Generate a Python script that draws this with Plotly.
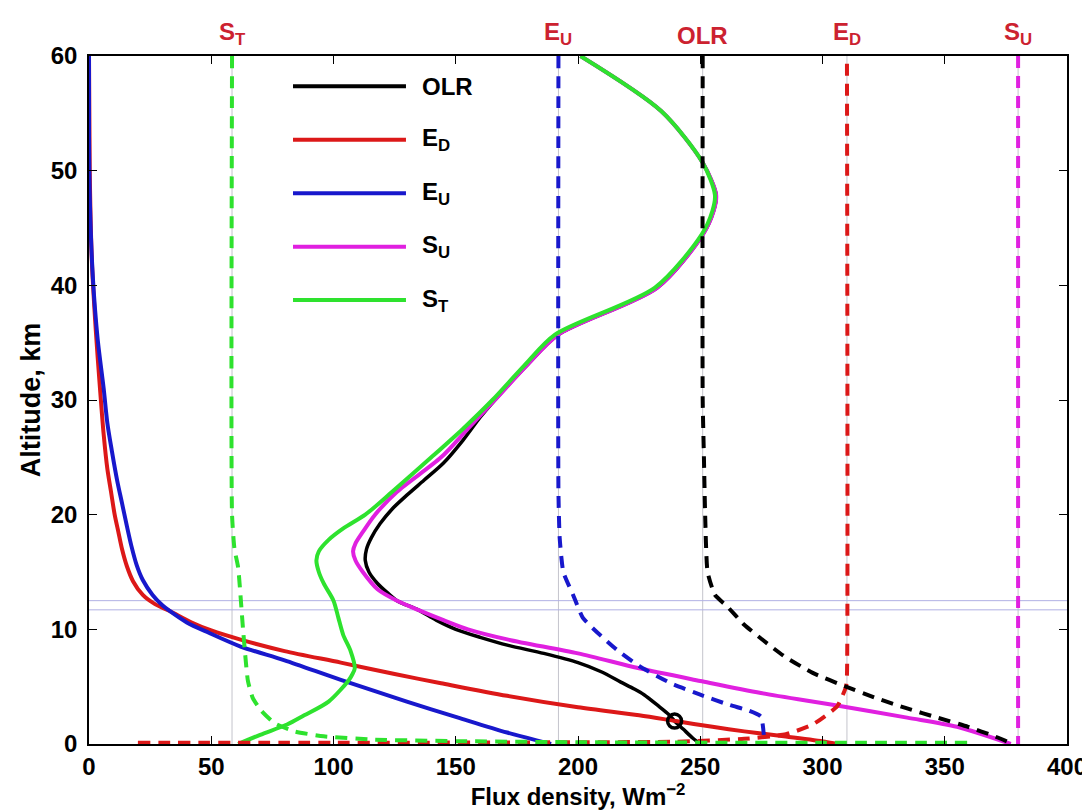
import plotly.graph_objects as go

# ---------------- data ----------------
# Solid profiles: flux (W m^-2) vs altitude (km)
olr_x = [201, 234, 251, 256.5, 255.5, 251, 232.5, 192, 179, 166, 160, 153, 145, 137, 130, 124, 119, 115.5, 113.5, 113, 114.5, 118, 122, 126, 134.6, 142, 150, 160, 171.5, 186, 200, 209.5, 217.5, 223, 227, 233, 237, 239.5, 243, 247, 250]
olr_y = [60, 55.2, 50.7, 47.9, 46.5, 44.4, 39.8, 35.7, 33, 30, 28.5, 26.5, 24.5, 23, 21.7, 20.5, 19.2, 18, 17, 16, 15, 14, 13.2, 12.5, 11.7, 10.8, 10, 9.3, 8.6, 7.9, 7.1, 6.3, 5.4, 4.8, 4.3, 3.3, 2.6, 2.0, 1.3, 0.5, 0]

ed_x = [0, 0.3, 1.2, 2.8, 4.5, 6, 7.5, 9, 10.5, 12, 13.5, 15.5, 18, 22, 27, 33, 42, 50, 62, 80, 103, 125, 144, 171, 200, 225, 240, 255, 268, 285, 301, 306]
ed_y = [60, 50, 42, 36, 31, 27, 24, 22, 20, 18.5, 17, 15.5, 14.2, 13, 12.2, 11.6, 10.6, 9.9, 9.1, 8.1, 7.1, 6.1, 5.3, 4.2, 3.2, 2.5, 2.0, 1.5, 1.1, 0.65, 0.2, 0]

eu_x = [0, 0, 0.4, 1.6, 3.5, 6, 7.5, 9.4, 11.5, 13.5, 15.5, 17.3, 19.5, 22, 26, 30, 33, 40, 49, 62, 80, 103, 130, 151, 171, 189]
eu_y = [60, 53, 47, 40.6, 35.4, 31, 28, 25.5, 23, 21, 19, 17.3, 15.6, 14.3, 13, 12.1, 11.6, 10.6, 9.7, 8.5, 7.3, 5.6, 3.7, 2.3, 1.0, 0]

su_x = [201, 234, 251, 256.5, 255.5, 251, 232.5, 192, 179, 166, 155, 144, 126, 117, 112, 109, 108, 109, 112, 118, 126, 134.6, 145, 155, 171.5, 200, 225, 250, 274.8, 304.7, 334.6, 355, 377]
su_y = [60, 55.2, 50.7, 47.9, 46.5, 44.4, 39.8, 35.7, 33, 30, 27.5, 25, 22, 20, 18.5, 17.5, 16.8, 16, 15, 13.5, 12.5, 11.7, 10.8, 10, 9.1, 7.9, 6.6, 5.5, 4.45, 3.4, 2.3, 1.5, 0]

st_x = [201, 234, 251, 256, 255, 250.5, 231.5, 190.6, 178, 165, 153, 140, 124, 113, 104, 98, 94, 93, 94, 96, 100, 102, 104, 107, 108.7, 107.5, 106, 98, 88, 81, 70, 61]
st_y = [60, 55.2, 50.7, 47.9, 46.5, 44.4, 39.8, 35.7, 33, 30, 27.5, 25, 22, 20, 18.8, 17.8, 16.8, 16, 15, 14, 12.5, 11, 9.5, 8.1, 6.6, 6, 5.5, 3.7, 2.5, 1.7, 0.8, 0]

# Dashed profiles
olr_d_x = [251, 251, 251.5, 252, 253, 256, 261, 268, 276, 284.7, 296, 309.6, 322, 334.6, 347, 359.5, 370, 378]
olr_d_y = [60, 30, 25, 20, 15, 13, 12, 10.4, 9, 7.6, 6.2, 5.0, 4, 3.1, 2.3, 1.5, 0.7, 0]

ed_d_x = [20, 100, 200, 240, 268, 285, 296, 306, 309.6, 310, 310]
ed_d_y = [0.1, 0.1, 0.15, 0.2, 0.45, 0.85, 1.7, 3.3, 5.0, 6.0, 60]

eu_d_x = [192, 192, 192.5, 194, 198, 202, 208, 216, 225, 238, 250, 262, 270, 274.8, 276]
eu_d_y = [60, 22, 18, 15, 13, 11, 9.7, 8.2, 6.8, 5.3, 4.3, 3.4, 2.9, 2.4, 0.8]

su_d_x = [380, 380]
su_d_y = [60, 0]

st_d_x = [58.5, 58.5, 59.5, 61, 63, 65, 67, 70.5, 76, 84, 96, 117, 150, 200, 300, 360]
st_d_y = [60, 20, 17, 15.4, 10, 5.5, 4, 2.9, 1.8, 1.1, 0.67, 0.38, 0.25, 0.15, 0.1, 0.1]

# Marked point on the OLR profile
mark_x = [239.5]
mark_y = [2.0]

# Reference levels
ref_lines_x = [58.5, 192, 251, 310, 380]
ref_labels = ["S<sub>T</sub>", "E<sub>U</sub>", "OLR", "E<sub>D</sub>", "S<sub>U</sub>"]
tropopause_km = [11.7, 12.5]

legend_labels = ["OLR", "E<sub>D</sub>", "E<sub>U</sub>", "S<sub>U</sub>", "S<sub>T</sub>"]

x_ticks = [0, 50, 100, 150, 200, 250, 300, 350, 400]
y_ticks = [0, 10, 20, 30, 40, 50, 60]

# ---------------- styling ----------------
C_BLACK = "#000000"
C_RED = "#dc1818"
C_BLUE = "#1818cc"
C_MAG = "#e020e0"
C_GREEN = "#2ee22e"
LABEL_RED = "#cc2230"
FONT = "Liberation Sans, Arial, sans-serif"
DASH = "12px,8px"

fig = go.Figure()

solid = [
    (olr_x, olr_y, C_BLACK, 3.5),
    (ed_x, ed_y, C_RED, 4),
    (eu_x, eu_y, C_BLUE, 4),
    (su_x, su_y, C_MAG, 4),
    (st_x, st_y, C_GREEN, 4),
]
for xs, ys, c, w in solid:
    fig.add_trace(go.Scatter(x=xs, y=ys, mode="lines",
                             line=dict(color=c, width=w, shape="spline", smoothing=0.8),
                             showlegend=False, hoverinfo="skip"))

dashed = [
    (ed_d_x, ed_d_y, C_RED),
    (eu_d_x, eu_d_y, C_BLUE),
    (st_d_x, st_d_y, C_GREEN),
    (olr_d_x, olr_d_y, C_BLACK),
    (su_d_x, su_d_y, C_MAG),
]
for xs, ys, c in dashed:
    fig.add_trace(go.Scatter(x=xs, y=ys, mode="lines",
                             line=dict(color=c, width=4, dash=DASH, shape="spline", smoothing=0.5),
                             showlegend=False, hoverinfo="skip"))

fig.add_trace(go.Scatter(x=mark_x, y=mark_y, mode="markers",
                         marker=dict(symbol="circle-open", size=14, color=C_BLACK,
                                     line=dict(width=3.5, color=C_BLACK)),
                         showlegend=False, hoverinfo="skip", cliponaxis=False))

shapes = []
for xv in ref_lines_x:
    shapes.append(dict(type="line", xref="x", yref="paper", x0=xv, x1=xv, y0=0, y1=1,
                       line=dict(color="#c4c4cc", width=1), layer="below"))
for yv in tropopause_km:
    shapes.append(dict(type="line", xref="paper", yref="y", x0=0, x1=1, y0=yv, y1=yv,
                       line=dict(color="#b0b0e4", width=1), layer="below"))

annotations = []
for xv, lab in zip(ref_lines_x, ref_labels):
    annotations.append(dict(x=xv, y=1, xref="x", yref="paper", text=lab, showarrow=False,
                            xanchor="center", yanchor="bottom", yshift=5,
                            font=dict(family=FONT, size=24, color=LABEL_RED, weight="bold")))

# Legend (drawn manually to reproduce long key lines)
leg_colors = [C_BLACK, C_RED, C_BLUE, C_MAG, C_GREEN]
leg_y0 = 0.956
leg_dy = 0.0777
for i, (lab, c) in enumerate(zip(legend_labels, leg_colors)):
    yy = leg_y0 - i * leg_dy
    shapes.append(dict(type="line", xref="paper", yref="paper", x0=0.2086, x1=0.3241, y0=yy, y1=yy,
                       line=dict(color=c, width=4)))
    annotations.append(dict(x=0.3384, y=yy, xref="paper", yref="paper", text=lab, showarrow=False,
                            xanchor="left", yanchor="middle",
                            font=dict(family=FONT, size=24, color="#000000", weight="bold")))

axis_common = dict(showline=True, linecolor="black", linewidth=1.5, mirror="ticks",
                   ticks="inside", ticklen=8, tickwidth=1.2, tickcolor="black",
                   showgrid=False, zeroline=False,
                   tickfont=dict(family=FONT, size=24, color="black", weight="bold"))

fig.update_layout(
    width=1090, height=810,
    margin=dict(l=81, r=31, t=48, b=74),
    paper_bgcolor="white", plot_bgcolor="white",
    showlegend=False,
    shapes=shapes, annotations=annotations,
    xaxis=dict(range=[0, 400], tickvals=x_ticks,
               title=dict(text="Flux density, Wm<sup>−2</sup>", standoff=4,
                          font=dict(family=FONT, size=24, color="black", weight="bold")),
               **axis_common),
    yaxis=dict(range=[0, 60], tickvals=y_ticks, ticklabelstandoff=5,
               title=dict(text="Altitude, km", standoff=2,
                          font=dict(family=FONT, size=27, color="black", weight="bold")),
               **axis_common),
)

fig.write_html("out.html")
